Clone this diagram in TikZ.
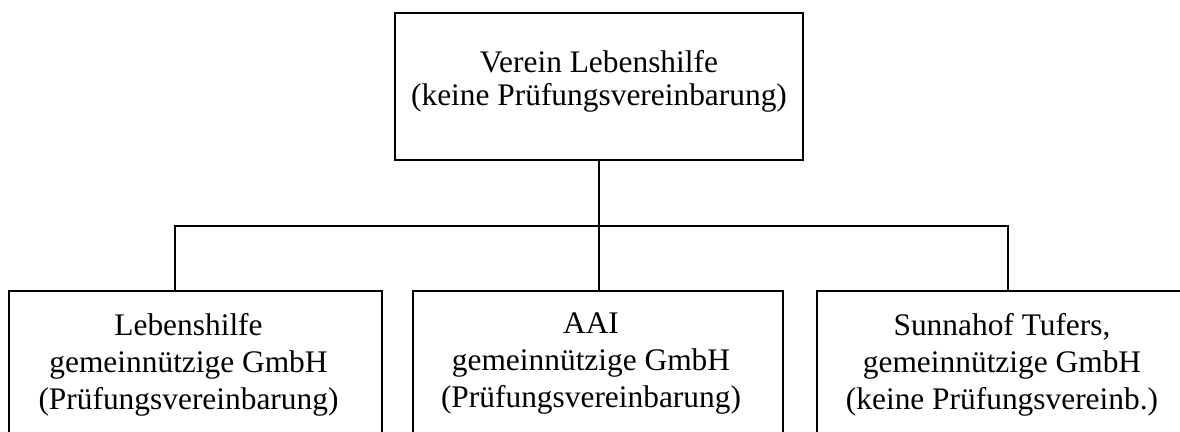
\documentclass[tikz,border=0pt]{standalone}
\usepackage{fontspec}
\setmainfont{Liberation Serif}
\begin{document}
\begin{tikzpicture}[x=0.5pt,y=-0.5pt,line join=miter,line cap=rect,line width=0.9pt]
	\tikzset{every node/.style={inner sep=0pt}}
	\tikzset{orgbox/.style={draw,rectangle}}
	\tikzset{orgtext/.style={align=center,anchor=north,font=\fontsize{15.7}{18.5}\selectfont}}
	\clip (0,0) rectangle (1180,432);
	% Verein oben
	\node[orgbox,minimum width=204pt,minimum height=73.5pt] (verein) at (599,86.5) {};
	\node[orgtext,font=\fontsize{15.7}{16.5}\selectfont] (vereintxt) at (599,49)
		{Verein Lebenshilfe\\(keine Prüfungsvereinbarung)};
	% Gesellschaften unten
	\node[orgbox,minimum width=186.5pt,minimum height=90pt] (lh) at (195.5,381) {};
	\node[orgbox,minimum width=185pt,minimum height=90pt] (aai) at (598,381) {};
	\node[orgbox,minimum width=191pt,minimum height=90pt] (sunna) at (1008,381) {};
	\node[orgtext] (lhtxt) at (188.5,312)
		{Lebenshilfe\\gemeinnützige GmbH\\(Prüfungsvereinbarung)};
	\node[orgtext] (aaitxt) at (591,312)
		{AAI\\gemeinnützige GmbH\\(Prüfungsvereinbarung)};
	\node[orgtext] (sunnatxt) at (1002,312)
		{Sunnahof Tufers,\\gemeinnützige GmbH\\(keine Prüfungsvereinb.)};
	% Verbindungen
	\coordinate (bl) at (175,226);
	\coordinate (bm) at (599,226);
	\coordinate (br) at (1008,226);
	\draw (verein.south) -- (bm);
	\draw (bl) -- (br);
	\draw (bl) -- (bl |- lh.north);
	\draw (bm) -- (bm |- aai.north);
	\draw (br) -- (br |- sunna.north);
\end{tikzpicture}
\end{document}
